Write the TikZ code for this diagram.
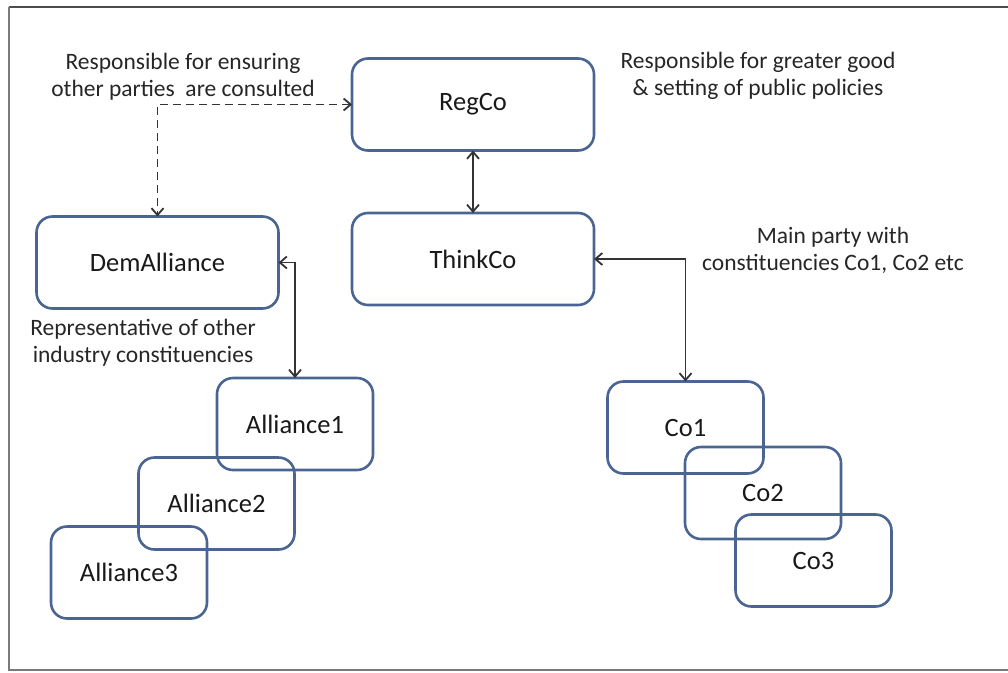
\documentclass[tikz,border=0pt]{standalone}
\usepackage{fontspec}
\setmainfont{Carlito}
\usetikzlibrary{arrows.meta}
\definecolor{boxblue}{HTML}{4A6591}
\definecolor{linkgray}{HTML}{333333}
\definecolor{framegray}{HTML}{7A7A7A}
\begin{document}
\begin{tikzpicture}[x=1pt,y=-1pt,
  party/.style={draw=boxblue, line width=2.6pt, rounded corners=16pt,
    inner sep=0pt, outer sep=0pt, text=black!90,
    font=\fontsize{26.5}{32}\selectfont},
  bigparty/.style={party, minimum width=242pt, minimum height=92pt},
  smallparty/.style={party, minimum width=156pt, minimum height=92pt},
  note/.style={align=center, text=black!85, inner sep=0pt,
    font=\fontsize{23.5}{27}\selectfont},
  link/.style={draw=linkgray, line width=1.8pt,
    {Straight Barb[length=7pt,width=12pt]}-{Straight Barb[length=7pt,width=12pt]}},
  dashlink/.style={link, dash pattern=on 8pt off 5pt}]
\useasboundingbox (0,0) rectangle (1008,672);

% outer frame (top, left and bottom edges)
\draw[line width=2pt, draw=black!70] (9,7) -- (1008,7);
\draw[line width=1.5pt, draw=framegray] (9,7) -- (9,670) -- (1008,670);

% main parties
\node[bigparty] (regco) at (473,104.5) {RegCo};
\node[bigparty] (thinkco) at (473,259) {ThinkCo};
\node[bigparty] (dem) at (157.5,262.5) {DemAlliance};

% alliances
\node[smallparty] (al1) at (295,424) {Alliance1};
\node[smallparty] (al2) at (216.5,503.5) {Alliance2};
\node[smallparty] (al3) at (129,572.5) {Alliance3};

% constituencies
\node[smallparty] (co1) at (685.5,427.5) {Co1};
\node[smallparty] (co2) at (763,493) {Co2};
\node[smallparty] (co3) at (813.5,560.5) {Co3};

% descriptions
\node[note] (n1) at (183,77) {Responsible for ensuring\\other parties\ \ are consulted};
\node[note] (n2) at (758,76) {Responsible for greater good\\\& setting of public policies};
\node[note] (n3) at (833,250) {Main party with\\constituencies Co1, Co2 etc};
\node[note] (n4) at (143,343) {Representative of other\\industry constituencies};

% connectors
\draw[dashlink] (regco.west) -| (dem.north);
\draw[link] (regco.south) -- (thinkco.north);
\draw[link] (dem.east) -| (al1.north);
\draw[link] (thinkco.east) -| (co1.north);
\end{tikzpicture}
\end{document}
